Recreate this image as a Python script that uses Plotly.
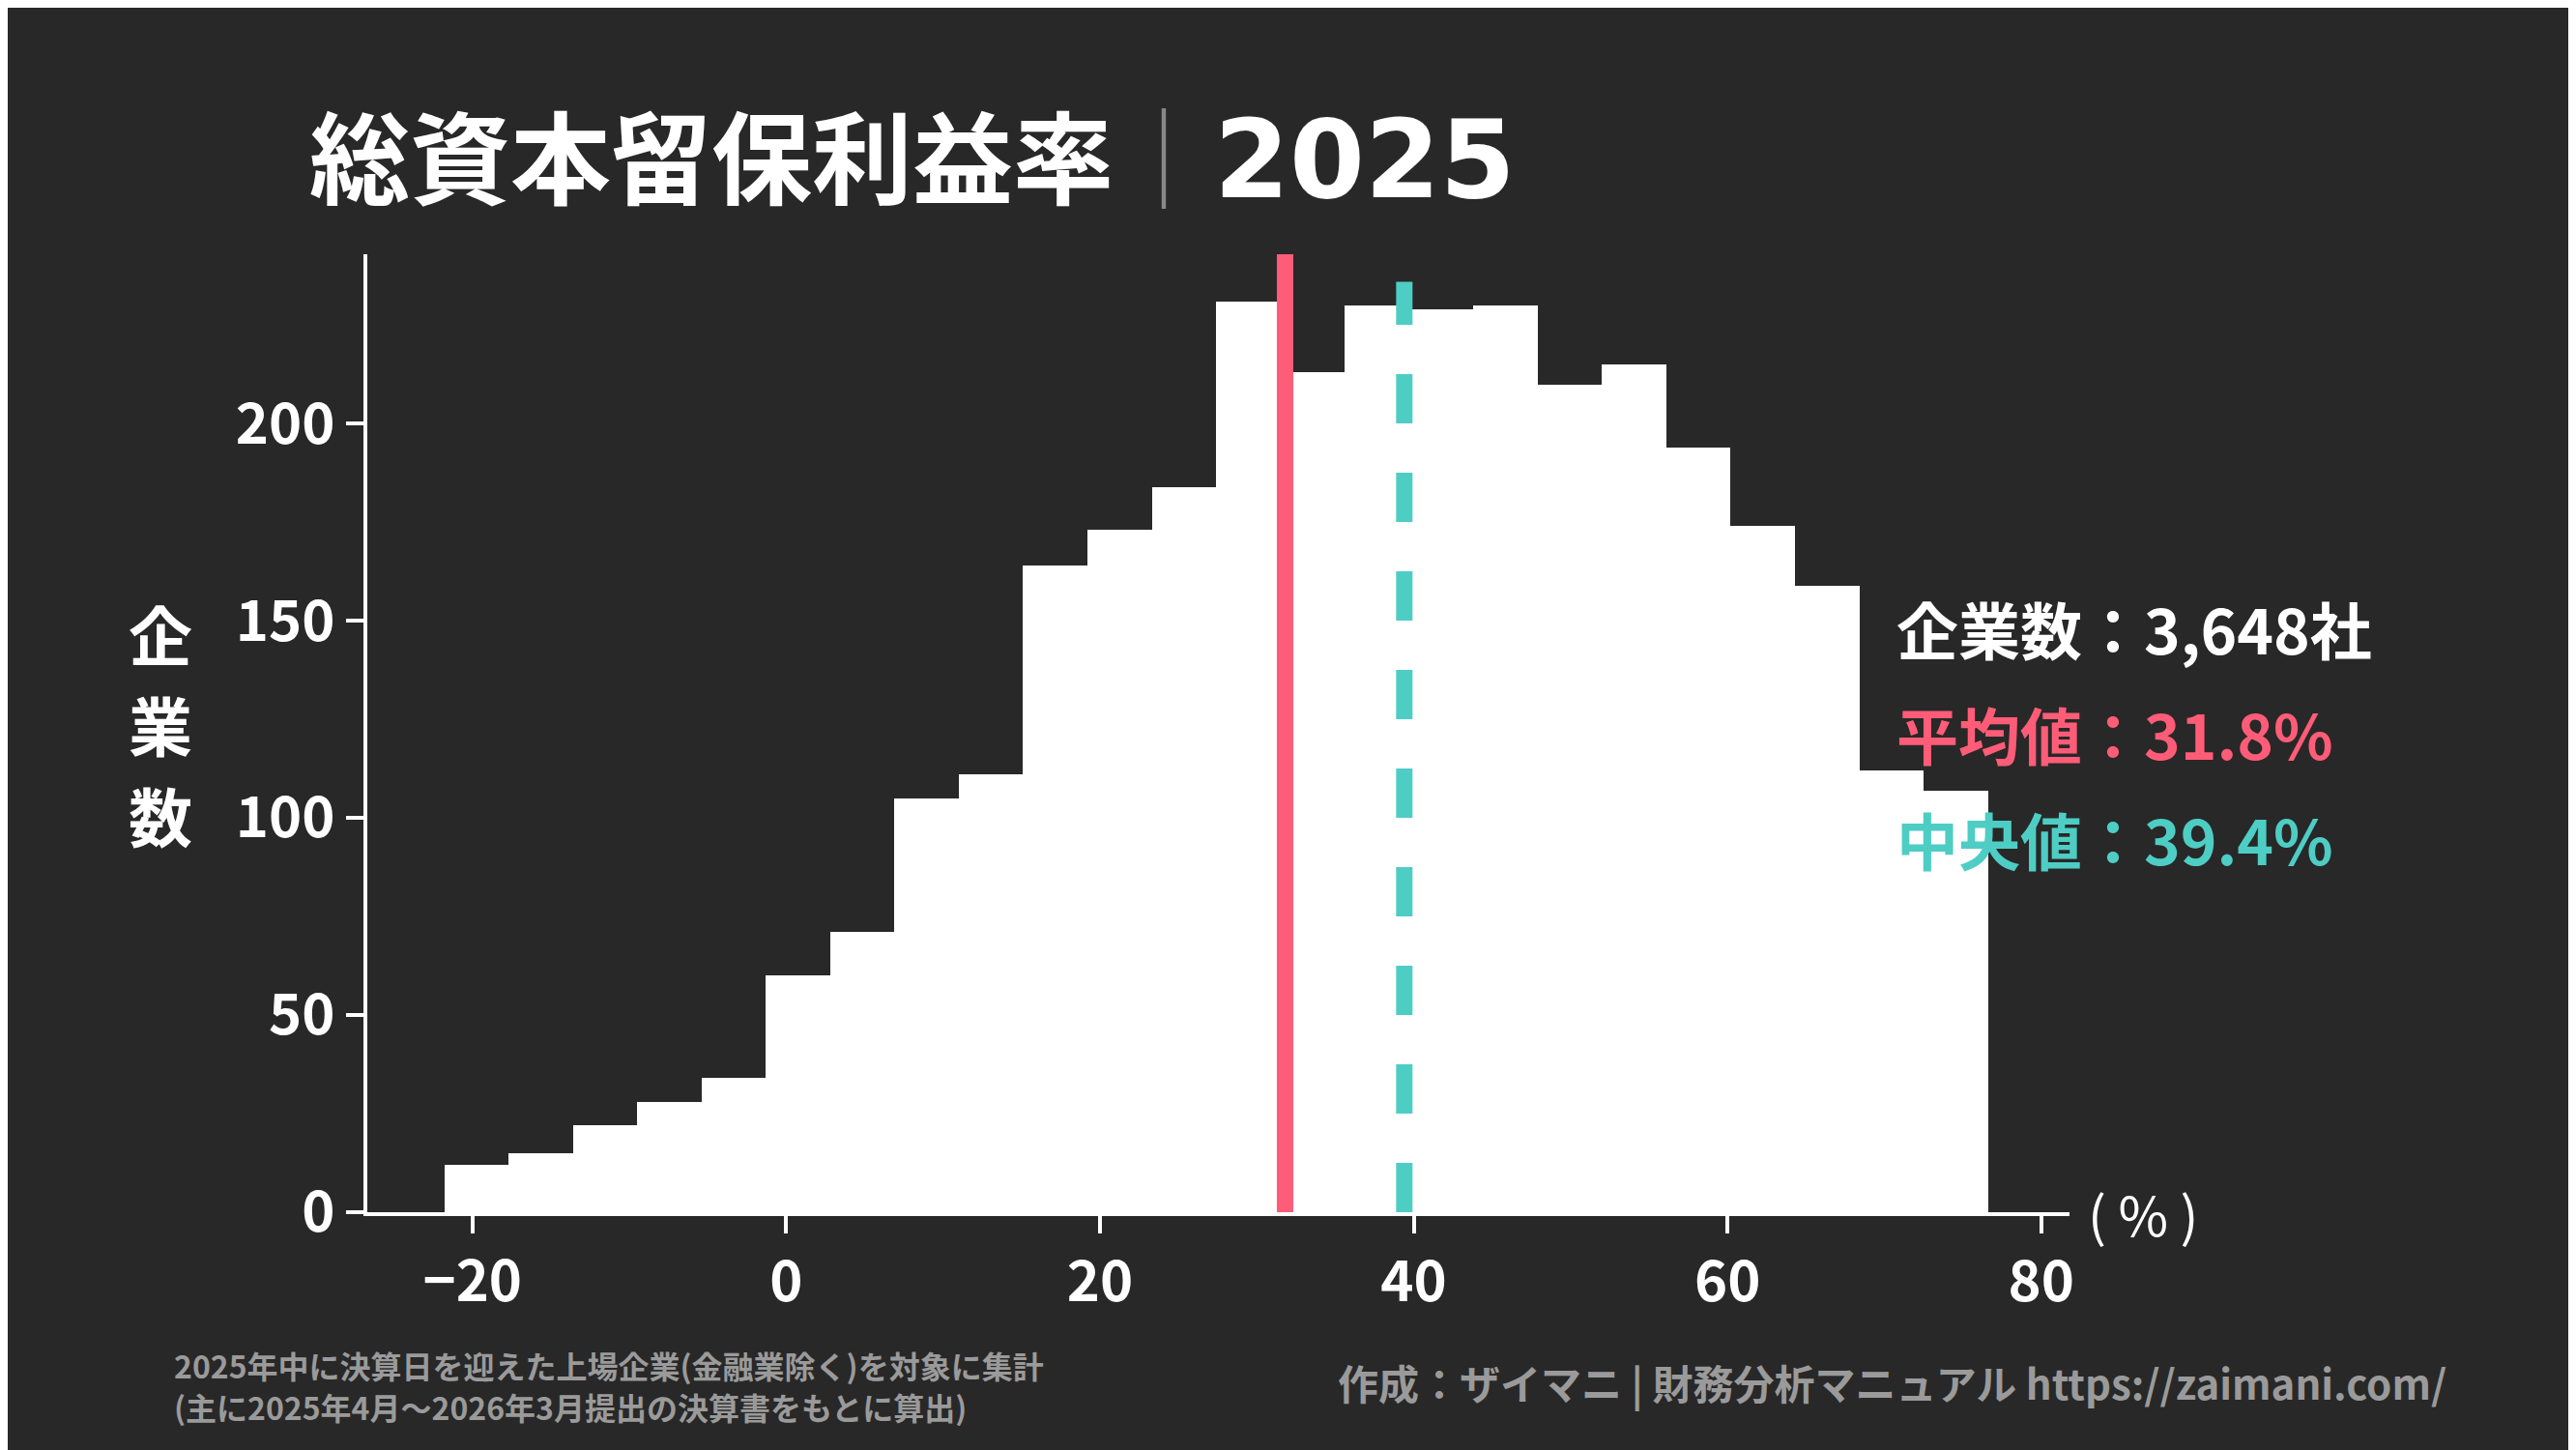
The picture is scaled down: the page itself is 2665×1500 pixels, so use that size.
import plotly.graph_objects as go

bin_start = -21.8
bin_width = 4.1
counts = [12, 15, 22, 28, 34, 60, 71, 105, 111, 164, 173, 184,
          231, 213, 230, 229, 230, 210, 215, 194, 174, 159, 112, 107]
centers = [bin_start + bin_width * (i + 0.5) for i in range(len(counts))]
mean_val = 31.8
median_val = 39.4
n_companies = "3,648"

W, H = 2665, 1500
L, R, T, B = 372, 2133, 255, 1246
BG = "#282828"
RED = "#ff5c78"
TEAL = "#4ecdc4"
FONT = "Noto Sans CJK JP"


def px(x, y):
    return (x - L) / (R - L), (B - y) / (B - T)


fig = go.Figure()
fig.add_trace(go.Bar(x=centers, y=counts, width=bin_width,
                     marker=dict(color="white", line=dict(width=0))))

fig.add_shape(type="line", x0=mean_val, x1=mean_val, y0=0, y1=243,
              line=dict(color=RED, width=17))
fig.add_shape(type="line", x0=median_val, x1=median_val, y0=0, y1=236,
              line=dict(color=TEAL, width=17, dash="dash"))

ann = []


def text(x, y, s, size, color="white", xa="left", ya="middle", bold=False, family=FONT):
    xp, yp = px(x, y)
    if bold:
        s = "<b>" + s + "</b>"
    ann.append(dict(x=xp, y=yp, xref="paper", yref="paper", text=s, showarrow=False,
                    xanchor=xa, yanchor=ya, font=dict(family=family, size=size, color=color)))


text(310, 150, "総資本留保利益率<span style='color:#888888;font-weight:normal'>｜</span>"
     "<span style='font-family:DejaVu Sans;font-size:112px'>2025</span>", 104, bold=True)
text(1952, 641, "企業数：" + n_companies + "社", 64, bold=True)
text(1952, 750, f"平均値：{mean_val}%", 64, color=RED, bold=True)
text(1952, 859, f"中央値：{median_val}%", 64, color=TEAL, bold=True)
for i, ch in enumerate("企業数"):
    text(158, 646 + i * 94, ch, 66, xa="center", bold=True)
text(2150, 1246, "( % )", 56)
text(170, 1404, "<b>2025年中に決算日を迎えた上場企業(金融業除く)を対象に集計</b>", 32, color="#9a9a9a")
text(170, 1447, "<b>(主に2025年4月～2026年3月提出の決算書をもとに算出)</b>", 32, color="#9a9a9a")
text(2525, 1421, "<b>作成：ザイマニ | 財務分析マニュアル https://zaimani.com/</b>", 42,
     color="#9a9a9a", xa="right")

fig.update_layout(
    width=W, height=H, paper_bgcolor=BG, plot_bgcolor=BG,
    margin=dict(l=L, r=W - R, t=T, b=H - B),
    showlegend=False, bargap=0, annotations=ann,
    font=dict(family=FONT, color="white", size=58),
)
fig.update_xaxes(range=[-26.7, 81.8], tickvals=[-20, 0, 20, 40, 60, 80],
                 ticktext=["<b>−20</b>", "<b>0</b>", "<b>20</b>", "<b>40</b>", "<b>60</b>", "<b>80</b>"],
                 showgrid=False, zeroline=False, showline=True, linecolor="white", linewidth=4,
                 ticks="outside", ticklen=18, tickwidth=4, tickcolor="white")
fig.update_yaxes(range=[0, 243], tickvals=[0, 50, 100, 150, 200],
                 ticktext=["<b>0</b>", "<b>50</b>", "<b>100</b>", "<b>150</b>", "<b>200</b>"],
                 showgrid=False, zeroline=False, showline=True, linecolor="white", linewidth=4,
                 ticks="outside", ticklen=18, tickwidth=4, tickcolor="white")

fig.write_html("out.html")
